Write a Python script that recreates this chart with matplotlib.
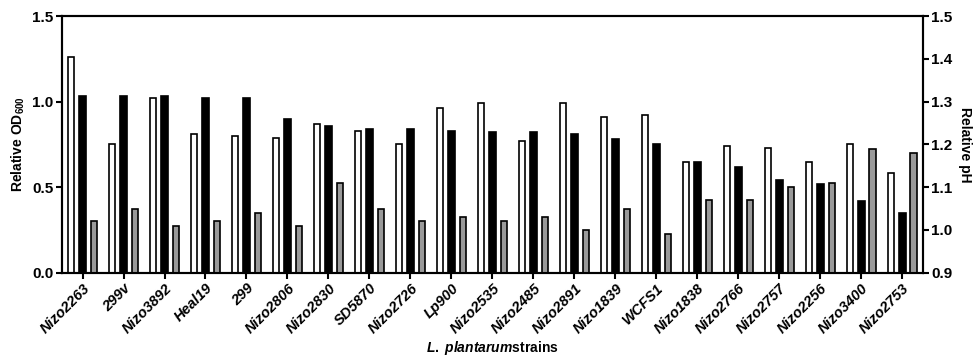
import matplotlib.pyplot as plt
import numpy as np

plt.rcParams['font.family'] = ['Liberation Sans', 'DejaVu Sans']
plt.rcParams['font.weight'] = 'bold'
plt.rcParams['mathtext.fontset'] = 'custom'
plt.rcParams['mathtext.rm'] = 'Liberation Sans:bold'
plt.rcParams['mathtext.bf'] = 'Liberation Sans:bold'
plt.rcParams['mathtext.it'] = 'Liberation Sans:italic:bold'

strains = ["Nizo2263", "299v", "Nizo3892", "Heal19", "299", "Nizo2806", "Nizo2830",
           "SD5870", "Nizo2726", "Lp900", "Nizo2535", "Nizo2485", "Nizo2891", "Nizo1839",
           "WCFS1", "Nizo1838", "Nizo2766", "Nizo2757", "Nizo2256", "Nizo3400", "Nizo2753"]

# relative OD600 (left axis)
od_white = [1.26, 0.75, 1.02, 0.81, 0.80, 0.79, 0.87, 0.83, 0.75, 0.96, 0.99,
            0.77, 0.99, 0.91, 0.92, 0.65, 0.74, 0.73, 0.65, 0.75, 0.58]
od_black = [1.03, 1.03, 1.03, 1.02, 1.02, 0.90, 0.86, 0.84, 0.84, 0.83, 0.82,
            0.82, 0.81, 0.78, 0.75, 0.65, 0.62, 0.54, 0.52, 0.42, 0.35]
# relative pH (right axis)
ph_grey = [1.02, 1.05, 1.01, 1.02, 1.04, 1.01, 1.11, 1.05, 1.02, 1.03, 1.02,
           1.03, 1.00, 1.05, 0.99, 1.07, 1.07, 1.10, 1.11, 1.19, 1.18]

x = np.arange(len(strains))
w = 0.16

fig = plt.figure(figsize=(9.77, 3.57), dpi=100)
ax = fig.add_axes([0.0635, 0.236, 0.881, 0.719])
ax2 = ax.twinx()

ax.bar(x - 0.28, od_white, w, color='white', edgecolor='black', linewidth=1.2)
ax.bar(x, od_black, w, color='black', edgecolor='black', linewidth=1.2)
ax2.bar(x + 0.28, ph_grey, w, color='#9a9a9a', edgecolor='black', linewidth=1.2)

ax.set_xlim(-0.5, len(strains) - 0.5)
ax.set_ylim(0, 1.5)
ax.set_yticks([0, 0.5, 1.0, 1.5])
ax.set_yticklabels(["0.0", "0.5", "1.0", "1.5"])
ax2.set_ylim(0.9, 1.5)
ax2.set_yticks([0.9, 1.0, 1.1, 1.2, 1.3, 1.4, 1.5])

for a in (ax, ax2):
    for s in a.spines.values():
        s.set_linewidth(1.5)
    a.tick_params(width=1.5, length=4, labelsize=11, pad=2)

ax.set_xticks(x)
ax.set_xticklabels(strains, rotation=45, ha='right', rotation_mode='anchor',
                   style='italic', fontsize=10.5, fontweight='bold')

ax.set_ylabel("Relative OD$_{600}$", fontsize=10, fontweight='bold', labelpad=4)
ax2.set_ylabel("Relative pH", fontsize=10, fontweight='bold', rotation=270, labelpad=14)
ax.set_xlabel("$\\mathit{L.}$ $\\mathit{plantarum}$strains", fontsize=10, fontweight='bold', labelpad=2)

fig.savefig("out.png", dpi=100)
